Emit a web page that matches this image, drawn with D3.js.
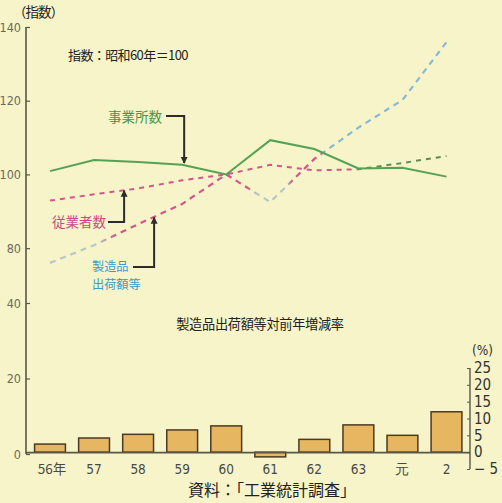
<!DOCTYPE html>
<html><head><meta charset="utf-8">
<script src="https://cdn.jsdelivr.net/npm/d3@7"></script>
<style>
html,body{margin:0;padding:0;background:#f6f4c8;}
svg{display:block;}
text{font-family:"Noto Sans CJK JP","Noto Sans",sans-serif;}
.num{font-family:"Liberation Sans Narrow","DejaVu Sans Condensed","Liberation Sans",sans-serif;}
</style></head>
<body>
<svg id="c" width="502" height="503"></svg>
<script>
const categories = ["56年","57","58","59","60","61","62","63","元","2"];
const establishments = [100.9,103.9,103.4,102.6,100,109.3,106.9,101.6,101.8,99.4]; // 事業所数
const employees      = [92.9,94.6,96.2,98.4,100,102.6,101.1,101.4,103.1,105.0];  // 従業者数
const shipments      = [76.0,80.8,86.5,92.0,100,92.5,104.2,112.7,120.2,135.9];   // 製造品出荷額等
const growthRate     = [2.4,4.2,5.3,6.6,7.8,-1.4,3.8,8.1,5.0,12.0];              // 対前年増減率 (%)
const leftTicks  = [0,20,40,80,100,120,140];
const rightTicks = [-5,0,5,10,15,20,25];

const svg = d3.select("#c");
svg.append("rect").attr("width",502).attr("height",503).attr("fill","#f6f4c8");

const x = d3.scalePoint().domain(categories).range([50,446.5]);
const yL = d3.scaleLinear().domain([0,40,70,140]).range([454,303,285,27]);
const yR = d3.scaleLinear().domain([-5,25]).range([469,368]);
const axisCol = "#5a5648";

// defs: gradients and arrow marker
const defs = svg.append("defs");
function grad(id, stops){
  const g = defs.append("linearGradient").attr("id",id)
    .attr("gradientUnits","userSpaceOnUse")
    .attr("x1",0).attr("x2",502).attr("y1",0).attr("y2",0);
  stops.forEach(s=>g.append("stop").attr("offset",s[0]/502).attr("stop-color",s[1]));
}
const cBlue="#86b9d6", cMag="#d2558f", cGray="#b9c6c6", cDkGreen="#5f8a57";
grad("gShip",[[0,cGray],[100,cGray],[114,cMag],[248,cMag],[256,cGray],[286,cGray],[292,cMag],[318,cMag],[326,cBlue],[502,cBlue]]);
grad("gEmp",[[0,cMag],[355,cMag],[360,cDkGreen],[502,cDkGreen]]);
defs.append("marker").attr("id","arr").attr("viewBox","0 0 10 10")
  .attr("refX",9).attr("refY",5).attr("markerWidth",7).attr("markerHeight",9)
  .attr("markerUnits","userSpaceOnUse").attr("orient","auto")
  .append("path").attr("d","M0,0 L10,5 L0,10 z").attr("fill","#2e2c28");

// left axis
const gL = svg.append("g").attr("transform","translate(26,0)")
  .call(d3.axisRight(yL).tickValues(leftTicks).tickSize(4).tickFormat(d3.format("d")));
gL.select(".domain").attr("stroke",axisCol).attr("stroke-width",1.6).attr("d","M0,27V454");
gL.selectAll(".tick line").attr("stroke",axisCol).attr("stroke-width",1.2);
gL.selectAll(".tick text").attr("class","num").attr("x",-5).attr("text-anchor","end")
  .attr("fill","#6d6a5c").attr("font-size",12.5);

// right axis
const gR = svg.append("g").attr("transform","translate(470,0)")
  .call(d3.axisLeft(yR).tickValues(rightTicks).tickSize(3)
    .tickFormat(d=> d<0 ? "− "+Math.abs(d) : String(d)));
gR.select(".domain").attr("stroke",axisCol).attr("stroke-width",1.4).attr("d","M0,368V469");
gR.selectAll(".tick line").attr("stroke",axisCol);
gR.selectAll(".tick text").attr("class","num").attr("x",4).attr("text-anchor","start")
  .attr("fill","#333").attr("font-size",15);
svg.append("text").attr("class","num").attr("x",472).attr("y",355).attr("font-size",13.5)
  .attr("fill","#333").text("(%)");

// bars
const bw = x.step()*0.7;
svg.append("g").selectAll("rect").data(growthRate).join("rect")
  .attr("x",(d,i)=>x(categories[i])-bw/2)
  .attr("y",d=>yR(Math.max(d,0)))
  .attr("width",bw)
  .attr("height",d=>Math.abs(yR(d)-yR(0)))
  .attr("fill","#e6b760").attr("stroke","#4a3a22").attr("stroke-width",1.5);

// baseline
svg.append("line").attr("x1",26).attr("x2",470).attr("y1",yR(0)+0.5).attr("y2",yR(0)+0.5)
  .attr("stroke",axisCol).attr("stroke-width",1.6);

// x labels
svg.append("g").selectAll("text").data(categories).join("text")
  .attr("class",(d,i)=>i===0?"":"num")
  .attr("x",d=>x(d)+(d==="56年"?2:0)).attr("y",474).attr("text-anchor","middle")
  .attr("font-size",13.5).attr("fill","#4a4a44").text(d=>d);

// lines
const line = d3.line().x((d,i)=>x(categories[i])).y(d=>yL(d));
svg.append("path").datum(shipments).attr("d",line).attr("fill","none")
  .attr("stroke","url(#gShip)").attr("stroke-width",2.2).attr("stroke-dasharray","6,5");
svg.append("path").datum(employees).attr("d",line).attr("fill","none")
  .attr("stroke","url(#gEmp)").attr("stroke-width",2).attr("stroke-dasharray","5,5");
svg.append("path").datum(establishments).attr("d",line).attr("fill","none")
  .attr("stroke","#55a155").attr("stroke-width",2);

// titles
svg.append("text").attr("x",13).attr("y",17).attr("font-size",13.5).attr("fill","#222")
  .attr("letter-spacing",-1).text("（指数）");
svg.append("text").attr("x",68).attr("y",60).attr("font-size",13).attr("fill","#222")
  .attr("letter-spacing",-0.6).text("指数：昭和60年＝100");
svg.append("text").attr("x",260).attr("y",329).attr("text-anchor","middle").attr("font-size",13.2)
  .attr("fill","#222").attr("letter-spacing",-0.3).text("製造品出荷額等対前年増減率");
svg.append("text").attr("x",272).attr("y",496).attr("text-anchor","middle").attr("font-size",16)
  .attr("fill","#222").text("資料：「工業統計調査」");

// annotations with leader arrows
const lead = svg.append("g").attr("fill","none").attr("stroke","#2e2c28").attr("stroke-width",2);
// 事業所数
svg.append("text").attr("x",108).attr("y",122).attr("font-size",13.5).attr("fill","#3e9a48").text("事業所数");
const ex = x("59")+2;
lead.append("path").attr("d",`M166,116H${ex}V${yL(102.8)-1}`).attr("marker-end","url(#arr)");
// 従業者数
svg.append("text").attr("x",52).attr("y",227).attr("font-size",13.5).attr("fill","#c94a86").text("従業者数");
const mx = x("58")-14;
lead.append("path").attr("d",`M108,222H${mx}V${yL(95.9)+1}`).attr("marker-end","url(#arr)");
// 製造品出荷額等
svg.append("text").attr("x",92).attr("y",271).attr("font-size",12.2).attr("fill","#3a9ccc").text("製造品");
svg.append("text").attr("x",92).attr("y",289).attr("font-size",12.2).attr("fill","#3a9ccc").text("出荷額等");
const sx = x("58")+16;
lead.append("path").attr("d",`M133,267H${sx}V${yL(88.6)+1}`).attr("marker-end","url(#arr)");
</script>
</body></html>
